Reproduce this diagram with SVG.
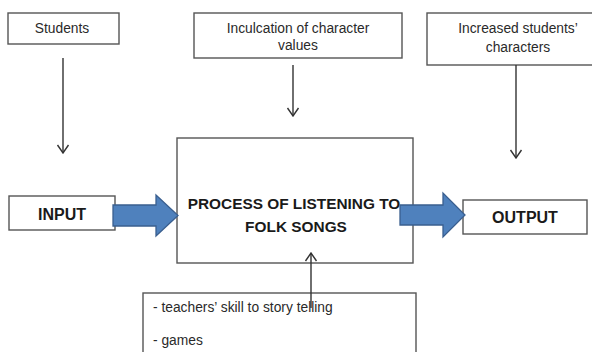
<svg xmlns="http://www.w3.org/2000/svg" width="592" height="352" viewBox="0 0 592 352">
<style>
.box{fill:#fff;stroke:#555;stroke-width:1.4}
.t{font-family:"Liberation Sans",Arial,sans-serif;font-size:13.8px;fill:#2a2a2a}
.b{font-family:"Liberation Sans",Arial,sans-serif;font-weight:bold;fill:#1a1a1a}
.ln{stroke:#333;stroke-width:1.4;fill:none}
.blue{fill:#4F81BD;stroke:#3A5F8F;stroke-width:1.3}
</style>
<defs>
<marker id="vh" viewBox="-1 -7 11 14" refX="9" refY="0" markerWidth="11" markerHeight="14" markerUnits="userSpaceOnUse" orient="auto">
<path d="M1,-5.5 L9,0 L1,5.5" fill="none" stroke="#333" stroke-width="1.4"/>
</marker>
</defs>
<rect width="592" height="352" fill="#fff"/>
<g id="students">
<rect class="box" x="8" y="13" width="111" height="31"/>
<text class="t" x="62" y="33" text-anchor="middle">Students</text>
</g>
<g id="inculcation">
<rect class="box" x="194" y="13" width="208" height="45"/>
<text class="t" x="298" y="33" text-anchor="middle">Inculcation of character</text>
<text class="t" x="298" y="50" text-anchor="middle">values</text>
</g>
<g id="increased">
<rect class="box" x="427" y="13" width="170" height="52"/>
<text class="t" x="518" y="33" text-anchor="middle">Increased students’</text>
<text class="t" x="518" y="52" text-anchor="middle">characters</text>
</g>
<g id="input">
<rect class="box" x="9" y="196" width="106" height="34"/>
<text class="b" x="62" y="220" font-size="16" text-anchor="middle">INPUT</text>
</g>
<g id="process">
<rect class="box" x="177" y="138" width="236" height="125"/>
<text class="b" x="294" y="209" font-size="15.4" text-anchor="middle">PROCESS OF LISTENING TO</text>
<text class="b" x="296" y="232" font-size="15.4" text-anchor="middle">FOLK SONGS</text>
</g>
<g id="output">
<rect class="box" x="463" y="200" width="124" height="34"/>
<text class="b" x="525" y="223" font-size="16" text-anchor="middle">OUTPUT</text>
</g>
<g id="factors">
<rect class="box" x="143" y="293" width="273" height="70"/>
<text class="t" x="153" y="312" font-size="14">- teachers’ skill to story telling</text>
<text class="t" x="153" y="345" font-size="14">- games</text>
</g>
<g id="connectors">
<line class="ln" x1="63" y1="58" x2="63" y2="153" marker-end="url(#vh)"/>
<line class="ln" x1="293" y1="65" x2="293" y2="116" marker-end="url(#vh)"/>
<line class="ln" x1="516" y1="65" x2="516" y2="158" marker-end="url(#vh)"/>
<line class="ln" x1="311" y1="308" x2="311" y2="253" marker-end="url(#vh)"/>
<path class="blue" d="M113,205 L156,205 L156,195 L178,215.5 L156,236 L156,226 L113,226 Z"/>
<path class="blue" d="M400,205 L443,205 L443,193 L465,215 L443,237 L443,225 L400,225 Z"/>
</g>
</svg>
